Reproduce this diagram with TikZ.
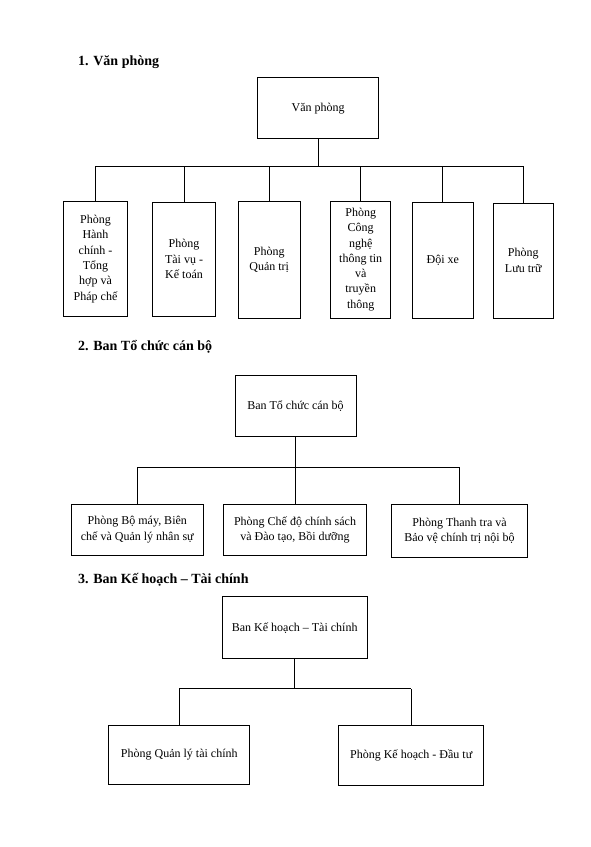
\documentclass[tikz,border=0pt]{standalone}
\usepackage{fontspec}
\setmainfont{Liberation Serif}
\begin{document}
\begin{tikzpicture}[x=1pt,y=-1pt,
  box/.style={draw, line width=1pt, inner sep=0pt, align=center, font=\fontsize{12}{15.3}\selectfont},
  ttl/.style={anchor=base west, inner sep=0pt, font=\fontsize{14}{17}\selectfont\bfseries},
  conn/.style={line width=1pt}]
\useasboundingbox[fill=white] (0,0) rectangle (590,847);

% ---------- Section 1 ----------
\node[ttl] (t1) at (78,65) {1. Văn phòng};
\node[box, minimum width=121pt, minimum height=61pt] (v) at (318.2,108.4) {Văn phòng};
\node[box, minimum width=63.6pt, minimum height=115.4pt] (c1) at (95.5,259) {Phòng\\Hành\\chính -\\Tổng\\hợp và\\Pháp chế};
\node[box, minimum width=63.4pt, minimum height=114pt] (c2) at (184,259) {Phòng\\Tài vụ -\\Kế toán};
\node[box, minimum width=61.7pt, minimum height=117pt] (c3) at (269.2,259.5) {Phòng\\Quản trị};
\node[box, minimum width=60pt, minimum height=117pt] (c4) at (360.7,259.5) {Phòng\\Công\\nghệ\\thông tin\\và\\truyền\\thông};
\node[box, minimum width=60.3pt, minimum height=116pt] (c5) at (442.9,260) {Đội xe};
\node[box, minimum width=60pt, minimum height=115pt] (c6) at (523.3,260.5) {Phòng\\Lưu trữ};
\coordinate (bus1) at (0,166);
\draw[conn] (v.south) -- (v.south |- bus1);
\draw[conn] (c1.north |- bus1) -- (c6.north |- bus1);
\foreach \n in {c1,c2,c3,c4,c5,c6}{\draw[conn] (\n.north) -- (\n.north |- bus1);}

% ---------- Section 2 ----------
\node[ttl] (t2) at (78,350) {2. Ban Tổ chức cán bộ};
\node[box, minimum width=121pt, minimum height=61.4pt] (b) at (295.5,406) {Ban Tổ chức cán bộ};
\node[box, minimum width=132pt, minimum height=51.3pt] (d1) at (137.3,529.7) {Phòng Bộ máy, Biên\\chế và Quản lý nhân sự};
\node[box, minimum width=142.6pt, minimum height=51.5pt] (d2) at (295,529.8) {Phòng Chế độ chính sách\\và Đào tạo, Bồi dưỡng};
\node[box, minimum width=135.6pt, minimum height=53pt] (d3) at (459.5,530.5) {Phòng Thanh tra và\\Bảo vệ chính trị nội bộ};
\coordinate (bus2) at (0,467.3);
\draw[conn] (b.south) -- (b.south |- bus2);
\draw[conn] (d1.north |- bus2) -- (d3.north |- bus2);
\foreach \n in {d1,d2,d3}{\draw[conn] (\n.north) -- (\n.north |- bus2);}

% ---------- Section 3 ----------
\node[ttl] (t3) at (78,583) {3. Ban Kế hoạch – Tài chính};
\node[box, minimum width=144.7pt, minimum height=61.7pt] (k) at (294.7,627.8) {Ban Kế hoạch – Tài chính};
\node[box, minimum width=141.3pt, minimum height=59pt] (e1) at (179.3,754.5) {Phòng Quản lý tài chính};
\node[box, minimum width=145pt, minimum height=60.3pt] (e2) at (411.2,755.8) {Phòng Kế hoạch - Đầu tư};
\coordinate (bus3) at (0,688.5);
\draw[conn] (k.south) -- (k.south |- bus3);
\draw[conn] (e1.north |- bus3) -- (e2.north |- bus3);
\foreach \n in {e1,e2}{\draw[conn] (\n.north) -- (\n.north |- bus3);}
\end{tikzpicture}
\end{document}
